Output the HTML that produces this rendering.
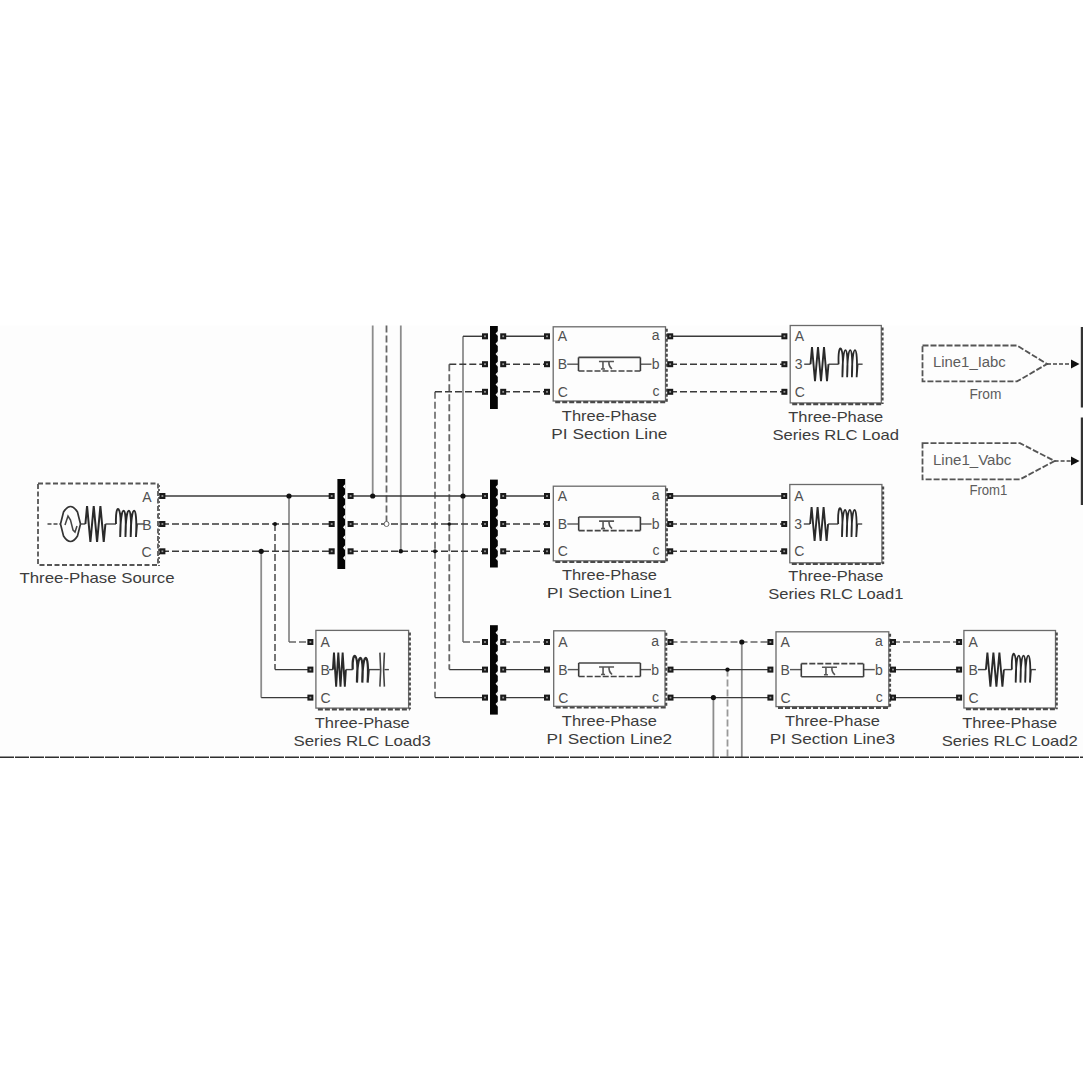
<!DOCTYPE html><html><head><meta charset="utf-8"><style>html,body{margin:0;padding:0;background:#fff;}svg{display:block;font-family:"Liberation Sans",sans-serif;}</style></head><body>
<svg width="1083" height="1083" viewBox="0 0 1083 1083">
<rect x="0" y="0" width="1083" height="1083" fill="#fff"/>
<rect x="0" y="325.5" width="1083" height="432" fill="#fdfdfd"/>
<line x1="372.7" y1="325.5" x2="372.7" y2="496.0" stroke="#8c8c8c" stroke-width="1.8"/>
<line x1="386.5" y1="325.5" x2="386.5" y2="524.0" stroke="#666" stroke-width="1.8" stroke-dasharray="7 3"/>
<line x1="400.8" y1="325.5" x2="400.8" y2="551.3" stroke="#8c8c8c" stroke-width="1.8"/>
<line x1="463.0" y1="336.3" x2="463.0" y2="642.0" stroke="#8c8c8c" stroke-width="1.8"/>
<line x1="449.3" y1="364.2" x2="449.3" y2="669.6" stroke="#666" stroke-width="1.8" stroke-dasharray="7 3"/>
<line x1="435.0" y1="391.8" x2="435.0" y2="697.6" stroke="#777" stroke-width="1.8" stroke-dasharray="7 3"/>
<line x1="289.0" y1="496.0" x2="289.0" y2="642.0" stroke="#8c8c8c" stroke-width="1.8"/>
<line x1="275.0" y1="524.0" x2="275.0" y2="669.6" stroke="#666" stroke-width="1.8" stroke-dasharray="7 3"/>
<line x1="261.2" y1="551.3" x2="261.2" y2="697.6" stroke="#8c8c8c" stroke-width="1.8"/>
<line x1="741.8" y1="642.0" x2="741.8" y2="757" stroke="#8c8c8c" stroke-width="1.8"/>
<line x1="727.5" y1="669.6" x2="727.5" y2="757" stroke="#999" stroke-width="1.8" stroke-dasharray="7 3"/>
<line x1="713.4" y1="697.6" x2="713.4" y2="757" stroke="#8c8c8c" stroke-width="1.8"/>
<line x1="463" y1="336.3" x2="485" y2="336.3" stroke="#3a3a3a" stroke-width="1.45"/>
<line x1="449.3" y1="364.2" x2="485" y2="364.2" stroke="#3a3a3a" stroke-width="1.45" stroke-dasharray="7 3"/>
<line x1="435" y1="391.8" x2="485" y2="391.8" stroke="#3a3a3a" stroke-width="1.45" stroke-dasharray="7 3"/>
<line x1="503" y1="336.3" x2="547" y2="336.3" stroke="#3a3a3a" stroke-width="1.45"/>
<line x1="503" y1="364.2" x2="547" y2="364.2" stroke="#3a3a3a" stroke-width="1.45" stroke-dasharray="7 3"/>
<line x1="503" y1="391.8" x2="547" y2="391.8" stroke="#3a3a3a" stroke-width="1.45" stroke-dasharray="7 3"/>
<line x1="670" y1="336.3" x2="784" y2="336.3" stroke="#3a3a3a" stroke-width="1.45"/>
<line x1="670" y1="364.2" x2="784" y2="364.2" stroke="#3a3a3a" stroke-width="1.45" stroke-dasharray="7 3"/>
<line x1="670" y1="391.8" x2="784" y2="391.8" stroke="#3a3a3a" stroke-width="1.45" stroke-dasharray="7 3"/>
<line x1="162" y1="496.0" x2="332" y2="496.0" stroke="#3a3a3a" stroke-width="1.45"/>
<line x1="162" y1="524.0" x2="332" y2="524.0" stroke="#3a3a3a" stroke-width="1.45" stroke-dasharray="7 3"/>
<line x1="162" y1="551.3" x2="332" y2="551.3" stroke="#3a3a3a" stroke-width="1.45" stroke-dasharray="7 3"/>
<line x1="351" y1="496.0" x2="485" y2="496.0" stroke="#3a3a3a" stroke-width="1.45"/>
<line x1="351" y1="524.0" x2="485" y2="524.0" stroke="#3a3a3a" stroke-width="1.45" stroke-dasharray="7 3"/>
<line x1="351" y1="551.3" x2="485" y2="551.3" stroke="#3a3a3a" stroke-width="1.45" stroke-dasharray="7 3"/>
<line x1="503" y1="496.0" x2="547" y2="496.0" stroke="#3a3a3a" stroke-width="1.45"/>
<line x1="503" y1="524.0" x2="547" y2="524.0" stroke="#3a3a3a" stroke-width="1.45" stroke-dasharray="7 3"/>
<line x1="503" y1="551.3" x2="547" y2="551.3" stroke="#3a3a3a" stroke-width="1.45" stroke-dasharray="7 3"/>
<line x1="670" y1="496.0" x2="784" y2="496.0" stroke="#3a3a3a" stroke-width="1.45"/>
<line x1="670" y1="524.0" x2="784" y2="524.0" stroke="#3a3a3a" stroke-width="1.45" stroke-dasharray="7 3"/>
<line x1="670" y1="551.3" x2="784" y2="551.3" stroke="#3a3a3a" stroke-width="1.45" stroke-dasharray="7 3"/>
<line x1="289" y1="642.0" x2="310.4" y2="642.0" stroke="#666" stroke-width="1.45" stroke-dasharray="7 3"/>
<line x1="275" y1="669.6" x2="310.4" y2="669.6" stroke="#3a3a3a" stroke-width="1.45"/>
<line x1="261.2" y1="697.6" x2="310.4" y2="697.6" stroke="#3a3a3a" stroke-width="1.45"/>
<line x1="463" y1="642.0" x2="485" y2="642.0" stroke="#666" stroke-width="1.45" stroke-dasharray="7 3"/>
<line x1="449.3" y1="669.6" x2="485" y2="669.6" stroke="#3a3a3a" stroke-width="1.45"/>
<line x1="435" y1="697.6" x2="485" y2="697.6" stroke="#3a3a3a" stroke-width="1.45"/>
<line x1="503" y1="642.0" x2="547" y2="642.0" stroke="#666" stroke-width="1.45" stroke-dasharray="7 3"/>
<line x1="503" y1="669.6" x2="547" y2="669.6" stroke="#3a3a3a" stroke-width="1.45"/>
<line x1="503" y1="697.6" x2="547" y2="697.6" stroke="#3a3a3a" stroke-width="1.45"/>
<line x1="670.5" y1="642.0" x2="770.4" y2="642.0" stroke="#666" stroke-width="1.45" stroke-dasharray="7 3"/>
<line x1="670.5" y1="669.6" x2="770.4" y2="669.6" stroke="#3a3a3a" stroke-width="1.45"/>
<line x1="670.5" y1="697.6" x2="770.4" y2="697.6" stroke="#3a3a3a" stroke-width="1.45"/>
<line x1="893" y1="642.0" x2="959" y2="642.0" stroke="#666" stroke-width="1.45" stroke-dasharray="7 3"/>
<line x1="893" y1="669.6" x2="959" y2="669.6" stroke="#3a3a3a" stroke-width="1.45"/>
<line x1="893" y1="697.6" x2="959" y2="697.6" stroke="#3a3a3a" stroke-width="1.45"/>
<circle cx="289" cy="496.0" r="2.6" fill="#111"/>
<circle cx="275" cy="524.0" r="2" fill="#111"/>
<circle cx="261.2" cy="551.3" r="2.6" fill="#111"/>
<circle cx="372.7" cy="496.0" r="2.6" fill="#111"/>
<circle cx="386.5" cy="524.0" r="2.5" fill="#fff" stroke="#666" stroke-width="1"/>
<circle cx="400.8" cy="551.3" r="2.2" fill="#111"/>
<circle cx="463" cy="496.0" r="2.6" fill="#111"/>
<circle cx="449.3" cy="524.0" r="1.8" fill="#111"/>
<circle cx="435" cy="551.3" r="2" fill="#111"/>
<circle cx="741.8" cy="642.0" r="2.6" fill="#111"/>
<circle cx="727.5" cy="669.6" r="2.2" fill="#111"/>
<circle cx="713.4" cy="697.6" r="2.6" fill="#111"/>
<rect x="38" y="483.5" width="120" height="81.5" fill="none" stroke="#555" stroke-width="1.8" stroke-dasharray="5 2.5"/>
<line x1="159" y1="485" x2="159" y2="566" stroke="#666" stroke-width="2" stroke-dasharray="2 2"/>
<rect x="159.4" y="493.0" width="6" height="6" fill="#1a1a1a"/>
<rect x="161.5" y="495.1" width="1.8" height="1.8" fill="#999"/>
<rect x="159.4" y="521.0" width="6" height="6" fill="#1a1a1a"/>
<rect x="161.5" y="523.1" width="1.8" height="1.8" fill="#999"/>
<rect x="159.4" y="548.3" width="6" height="6" fill="#1a1a1a"/>
<rect x="161.5" y="550.4" width="1.8" height="1.8" fill="#999"/>
<text x="151.5" y="501.5" font-size="14" fill="#505050" text-anchor="end">A</text>
<text x="151.5" y="529.5" font-size="14" fill="#505050" text-anchor="end">B</text>
<text x="151.5" y="556.8" font-size="14" fill="#505050" text-anchor="end">C</text>
<line x1="47.5" y1="524.0" x2="61" y2="524.0" stroke="#444" stroke-width="1.4" stroke-dasharray="4 2"/>
<path d="M60.5,524.0 L63.5,512.0 Q70.5,501.0 77.5,512.0 L80.5,524.0 L77.5,536.0 Q70.5,547.0 63.5,536.0 Z" fill="none" stroke="#333" stroke-width="1.7"/>
<path d="M65,525.0 L68,516.0 L70.5,520.0 L73,530.0 L75,532.0 L77,526.0" fill="none" stroke="#444" stroke-width="1.5"/>
<line x1="80.5" y1="524.0" x2="85.4" y2="524.0" stroke="#444" stroke-width="1.4"/>
<polyline points="85.4,524.0 87.07,506.0 90.40,542.0 93.73,506.0 97.07,542.0 100.40,506.0 103.73,542.0 105.4,524.0" fill="none" stroke="#2a2a2a" stroke-width="2" stroke-linejoin="miter"/>
<line x1="105.4" y1="524.0" x2="116" y2="524.0" stroke="#444" stroke-width="1.4"/>
<path d="M116,524.0 C115.0,502.0 122.25,502.0 120.20,537.0 C120.25,502.0 127.5,502.0 125.45,537.0 C125.5,502.0 132.75,502.0 130.70,537.0 C130.75,502.0 138.0,502.0 135.95,537.0 L137,524.0" fill="none" stroke="#2a2a2a" stroke-width="1.9"/>
<line x1="137" y1="524.0" x2="144" y2="524.0" stroke="#444" stroke-width="1.4"/>
<text x="97" y="582.8" font-size="15" fill="#3c3c3c" text-anchor="middle" textLength="155" lengthAdjust="spacingAndGlyphs">Three-Phase Source</text>
<rect x="337.4" y="479" width="7.8" height="90" fill="#050505"/>
<polygon points="345.29999999999995,483.9 343.0,486.5 345.29999999999995,489.1" fill="#fff"/>
<polygon points="345.29999999999995,494.09999999999997 343.0,496.7 345.29999999999995,499.3" fill="#fff"/>
<polygon points="345.29999999999995,504.29999999999995 343.0,506.9 345.29999999999995,509.5" fill="#fff"/>
<polygon points="345.29999999999995,514.5 343.0,517.1 345.29999999999995,519.7" fill="#fff"/>
<polygon points="345.29999999999995,524.6999999999999 343.0,527.3 345.29999999999995,529.9" fill="#fff"/>
<polygon points="345.29999999999995,534.9 343.0,537.5 345.29999999999995,540.1" fill="#fff"/>
<polygon points="345.29999999999995,545.1 343.0,547.7 345.29999999999995,550.3000000000001" fill="#fff"/>
<polygon points="345.29999999999995,555.3 343.0,557.9 345.29999999999995,560.5" fill="#fff"/>
<rect x="328.7" y="493.0" width="6" height="6" fill="#1a1a1a"/>
<rect x="330.8" y="495.1" width="1.8" height="1.8" fill="#999"/>
<rect x="347.6" y="493.0" width="6" height="6" fill="#1a1a1a"/>
<rect x="349.70000000000005" y="495.1" width="1.8" height="1.8" fill="#999"/>
<rect x="328.7" y="521.0" width="6" height="6" fill="#1a1a1a"/>
<rect x="330.8" y="523.1" width="1.8" height="1.8" fill="#999"/>
<rect x="347.6" y="521.0" width="6" height="6" fill="#1a1a1a"/>
<rect x="349.70000000000005" y="523.1" width="1.8" height="1.8" fill="#999"/>
<rect x="328.7" y="548.3" width="6" height="6" fill="#1a1a1a"/>
<rect x="330.8" y="550.4" width="1.8" height="1.8" fill="#999"/>
<rect x="347.6" y="548.3" width="6" height="6" fill="#1a1a1a"/>
<rect x="349.70000000000005" y="550.4" width="1.8" height="1.8" fill="#999"/>
<rect x="490" y="326" width="7.8" height="83" fill="#050505"/>
<polygon points="497.9,330.9 495.6,333.5 497.9,336.1" fill="#fff"/>
<polygon points="497.9,341.09999999999997 495.6,343.7 497.9,346.3" fill="#fff"/>
<polygon points="497.9,351.29999999999995 495.6,353.9 497.9,356.5" fill="#fff"/>
<polygon points="497.9,361.5 495.6,364.1 497.9,366.70000000000005" fill="#fff"/>
<polygon points="497.9,371.7 495.6,374.3 497.9,376.90000000000003" fill="#fff"/>
<polygon points="497.9,381.9 495.6,384.5 497.9,387.1" fill="#fff"/>
<polygon points="497.9,392.09999999999997 495.6,394.7 497.9,397.3" fill="#fff"/>
<rect x="482.0" y="333.3" width="6" height="6" fill="#1a1a1a"/>
<rect x="484.1" y="335.40000000000003" width="1.8" height="1.8" fill="#999"/>
<rect x="500.2" y="333.3" width="6" height="6" fill="#1a1a1a"/>
<rect x="502.3" y="335.40000000000003" width="1.8" height="1.8" fill="#999"/>
<rect x="482.0" y="361.2" width="6" height="6" fill="#1a1a1a"/>
<rect x="484.1" y="363.3" width="1.8" height="1.8" fill="#999"/>
<rect x="500.2" y="361.2" width="6" height="6" fill="#1a1a1a"/>
<rect x="502.3" y="363.3" width="1.8" height="1.8" fill="#999"/>
<rect x="482.0" y="388.8" width="6" height="6" fill="#1a1a1a"/>
<rect x="484.1" y="390.90000000000003" width="1.8" height="1.8" fill="#999"/>
<rect x="500.2" y="388.8" width="6" height="6" fill="#1a1a1a"/>
<rect x="502.3" y="390.90000000000003" width="1.8" height="1.8" fill="#999"/>
<rect x="490" y="479.6" width="7.8" height="87.89999999999998" fill="#050505"/>
<polygon points="497.9,484.5 495.6,487.1 497.9,489.70000000000005" fill="#fff"/>
<polygon points="497.9,494.7 495.6,497.3 497.9,499.90000000000003" fill="#fff"/>
<polygon points="497.9,504.9 495.6,507.5 497.9,510.1" fill="#fff"/>
<polygon points="497.9,515.1 495.6,517.7 497.9,520.3000000000001" fill="#fff"/>
<polygon points="497.9,525.3 495.6,527.9 497.9,530.5" fill="#fff"/>
<polygon points="497.9,535.5 495.6,538.1 497.9,540.7" fill="#fff"/>
<polygon points="497.9,545.7 495.6,548.3000000000001 497.9,550.9000000000001" fill="#fff"/>
<polygon points="497.9,555.9 495.6,558.5 497.9,561.1" fill="#fff"/>
<rect x="482.0" y="493.0" width="6" height="6" fill="#1a1a1a"/>
<rect x="484.1" y="495.1" width="1.8" height="1.8" fill="#999"/>
<rect x="500.2" y="493.0" width="6" height="6" fill="#1a1a1a"/>
<rect x="502.3" y="495.1" width="1.8" height="1.8" fill="#999"/>
<rect x="482.0" y="521.0" width="6" height="6" fill="#1a1a1a"/>
<rect x="484.1" y="523.1" width="1.8" height="1.8" fill="#999"/>
<rect x="500.2" y="521.0" width="6" height="6" fill="#1a1a1a"/>
<rect x="502.3" y="523.1" width="1.8" height="1.8" fill="#999"/>
<rect x="482.0" y="548.3" width="6" height="6" fill="#1a1a1a"/>
<rect x="484.1" y="550.4" width="1.8" height="1.8" fill="#999"/>
<rect x="500.2" y="548.3" width="6" height="6" fill="#1a1a1a"/>
<rect x="502.3" y="550.4" width="1.8" height="1.8" fill="#999"/>
<rect x="490" y="625.2" width="7.8" height="89.39999999999998" fill="#050505"/>
<polygon points="497.9,630.1 495.6,632.7 497.9,635.3000000000001" fill="#fff"/>
<polygon points="497.9,640.3000000000001 495.6,642.9000000000001 497.9,645.5000000000001" fill="#fff"/>
<polygon points="497.9,650.5 495.6,653.1 497.9,655.7" fill="#fff"/>
<polygon points="497.9,660.7 495.6,663.3000000000001 497.9,665.9000000000001" fill="#fff"/>
<polygon points="497.9,670.9 495.6,673.5 497.9,676.1" fill="#fff"/>
<polygon points="497.9,681.1 495.6,683.7 497.9,686.3000000000001" fill="#fff"/>
<polygon points="497.9,691.3000000000001 495.6,693.9000000000001 497.9,696.5000000000001" fill="#fff"/>
<polygon points="497.9,701.5 495.6,704.1 497.9,706.7" fill="#fff"/>
<rect x="482.0" y="639.0" width="6" height="6" fill="#1a1a1a"/>
<rect x="484.1" y="641.1" width="1.8" height="1.8" fill="#999"/>
<rect x="500.2" y="639.0" width="6" height="6" fill="#1a1a1a"/>
<rect x="502.3" y="641.1" width="1.8" height="1.8" fill="#999"/>
<rect x="482.0" y="666.6" width="6" height="6" fill="#1a1a1a"/>
<rect x="484.1" y="668.7" width="1.8" height="1.8" fill="#999"/>
<rect x="500.2" y="666.6" width="6" height="6" fill="#1a1a1a"/>
<rect x="502.3" y="668.7" width="1.8" height="1.8" fill="#999"/>
<rect x="482.0" y="694.6" width="6" height="6" fill="#1a1a1a"/>
<rect x="484.1" y="696.7" width="1.8" height="1.8" fill="#999"/>
<rect x="500.2" y="694.6" width="6" height="6" fill="#1a1a1a"/>
<rect x="502.3" y="696.7" width="1.8" height="1.8" fill="#999"/>
<rect x="553.2" y="326.8" width="112.29999999999995" height="74.19999999999999" fill="none" stroke="#6a6a6a" stroke-width="1.3"/>
<line x1="666.7" y1="328.8" x2="666.7" y2="402.2" stroke="#4a4a4a" stroke-width="2.2" stroke-dasharray="3 2"/>
<line x1="555.2" y1="402.2" x2="666.7" y2="402.2" stroke="#4a4a4a" stroke-width="2.2" stroke-dasharray="5 2"/>
<text x="557.7" y="341.3" font-size="14" fill="#505050" text-anchor="start">A</text>
<text x="557.7" y="369.2" font-size="14" fill="#505050" text-anchor="start">B</text>
<text x="557.7" y="396.8" font-size="14" fill="#505050" text-anchor="start">C</text>
<text x="659.5" y="340.3" font-size="14" fill="#505050" text-anchor="end">a</text>
<text x="659.5" y="369.2" font-size="14" fill="#505050" text-anchor="end">b</text>
<text x="659.5" y="395.8" font-size="14" fill="#505050" text-anchor="end">c</text>
<line x1="567.2" y1="364.2" x2="578.5" y2="364.2" stroke="#555" stroke-width="1.4"/>
<line x1="640.4" y1="364.2" x2="651.5" y2="364.2" stroke="#555" stroke-width="1.4"/>
<line x1="578.5" y1="357.4" x2="578.5" y2="371" stroke="#3a3a3a" stroke-width="1.6"/>
<line x1="640.4" y1="357.4" x2="640.4" y2="371" stroke="#3a3a3a" stroke-width="1.6"/>
<line x1="578.5" y1="357.4" x2="640.4" y2="357.4" stroke="#444" stroke-width="1.6"/>
<line x1="578.5" y1="371" x2="640.4" y2="371" stroke="#444" stroke-width="1.6" stroke-dasharray="6 2"/>
<path d="M598.95,361.5 L613.95,361.5 M602.95,361.5 L602.95,369 M600.95,369 L604.95,369 M608.95,361.5 Q608.45,366 611.95,369" fill="none" stroke="#555" stroke-width="1.6"/>
<rect x="544.0" y="333.3" width="6" height="6" fill="#1a1a1a"/>
<rect x="546.1" y="335.40000000000003" width="1.8" height="1.8" fill="#999"/>
<rect x="667.2" y="333.3" width="6" height="6" fill="#1a1a1a"/>
<rect x="669.3000000000001" y="335.40000000000003" width="1.8" height="1.8" fill="#999"/>
<rect x="544.0" y="361.2" width="6" height="6" fill="#1a1a1a"/>
<rect x="546.1" y="363.3" width="1.8" height="1.8" fill="#999"/>
<rect x="667.2" y="361.2" width="6" height="6" fill="#1a1a1a"/>
<rect x="669.3000000000001" y="363.3" width="1.8" height="1.8" fill="#999"/>
<rect x="544.0" y="388.8" width="6" height="6" fill="#1a1a1a"/>
<rect x="546.1" y="390.90000000000003" width="1.8" height="1.8" fill="#999"/>
<rect x="667.2" y="388.8" width="6" height="6" fill="#1a1a1a"/>
<rect x="669.3000000000001" y="390.90000000000003" width="1.8" height="1.8" fill="#999"/>
<text x="609.35" y="420.5" font-size="15" fill="#3c3c3c" text-anchor="middle" textLength="95" lengthAdjust="spacingAndGlyphs">Three-Phase</text>
<text x="609.35" y="438.5" font-size="15" fill="#3c3c3c" text-anchor="middle" textLength="116" lengthAdjust="spacingAndGlyphs">PI Section Line</text>
<rect x="553.3" y="486.2" width="112.30000000000007" height="74.59999999999997" fill="none" stroke="#6a6a6a" stroke-width="1.3"/>
<line x1="666.8000000000001" y1="488.2" x2="666.8000000000001" y2="562.0" stroke="#4a4a4a" stroke-width="2.2" stroke-dasharray="3 2"/>
<line x1="555.3" y1="562.0" x2="666.8000000000001" y2="562.0" stroke="#4a4a4a" stroke-width="2.2" stroke-dasharray="5 2"/>
<text x="557.8" y="501.0" font-size="14" fill="#505050" text-anchor="start">A</text>
<text x="557.8" y="529.0" font-size="14" fill="#505050" text-anchor="start">B</text>
<text x="557.8" y="556.3" font-size="14" fill="#505050" text-anchor="start">C</text>
<text x="659.6" y="500.0" font-size="14" fill="#505050" text-anchor="end">a</text>
<text x="659.6" y="529.0" font-size="14" fill="#505050" text-anchor="end">b</text>
<text x="659.6" y="555.3" font-size="14" fill="#505050" text-anchor="end">c</text>
<line x1="567.3" y1="524.0" x2="578.7" y2="524.0" stroke="#555" stroke-width="1.4"/>
<line x1="640.4" y1="524.0" x2="651.6" y2="524.0" stroke="#555" stroke-width="1.4"/>
<line x1="578.7" y1="517" x2="578.7" y2="530.6" stroke="#3a3a3a" stroke-width="1.6"/>
<line x1="640.4" y1="517" x2="640.4" y2="530.6" stroke="#3a3a3a" stroke-width="1.6"/>
<line x1="578.7" y1="517" x2="640.4" y2="517" stroke="#444" stroke-width="1.6"/>
<line x1="578.7" y1="530.6" x2="640.4" y2="530.6" stroke="#444" stroke-width="1.6" stroke-dasharray="6 2"/>
<path d="M599.05,521.1 L614.05,521.1 M603.05,521.1 L603.05,528.6 M601.05,528.6 L605.05,528.6 M609.05,521.1 Q608.55,525.6 612.05,528.6" fill="none" stroke="#555" stroke-width="1.6"/>
<rect x="544.0" y="493.0" width="6" height="6" fill="#1a1a1a"/>
<rect x="546.1" y="495.1" width="1.8" height="1.8" fill="#999"/>
<rect x="667.2" y="493.0" width="6" height="6" fill="#1a1a1a"/>
<rect x="669.3000000000001" y="495.1" width="1.8" height="1.8" fill="#999"/>
<rect x="544.0" y="521.0" width="6" height="6" fill="#1a1a1a"/>
<rect x="546.1" y="523.1" width="1.8" height="1.8" fill="#999"/>
<rect x="667.2" y="521.0" width="6" height="6" fill="#1a1a1a"/>
<rect x="669.3000000000001" y="523.1" width="1.8" height="1.8" fill="#999"/>
<rect x="544.0" y="548.3" width="6" height="6" fill="#1a1a1a"/>
<rect x="546.1" y="550.4" width="1.8" height="1.8" fill="#999"/>
<rect x="667.2" y="548.3" width="6" height="6" fill="#1a1a1a"/>
<rect x="669.3000000000001" y="550.4" width="1.8" height="1.8" fill="#999"/>
<text x="609.45" y="580" font-size="15" fill="#3c3c3c" text-anchor="middle" textLength="95" lengthAdjust="spacingAndGlyphs">Three-Phase</text>
<text x="609.45" y="598" font-size="15" fill="#3c3c3c" text-anchor="middle" textLength="125" lengthAdjust="spacingAndGlyphs">PI Section Line1</text>
<rect x="553.7" y="630.8" width="111.29999999999995" height="75.5" fill="none" stroke="#6a6a6a" stroke-width="1.3"/>
<line x1="666.2" y1="632.8" x2="666.2" y2="707.5" stroke="#4a4a4a" stroke-width="2.2" stroke-dasharray="3 2"/>
<line x1="555.7" y1="707.5" x2="666.2" y2="707.5" stroke="#4a4a4a" stroke-width="2.2" stroke-dasharray="5 2"/>
<text x="558.2" y="647.0" font-size="14" fill="#505050" text-anchor="start">A</text>
<text x="558.2" y="674.6" font-size="14" fill="#505050" text-anchor="start">B</text>
<text x="558.2" y="702.6" font-size="14" fill="#505050" text-anchor="start">C</text>
<text x="659" y="646.0" font-size="14" fill="#505050" text-anchor="end">a</text>
<text x="659" y="674.6" font-size="14" fill="#505050" text-anchor="end">b</text>
<text x="659" y="701.6" font-size="14" fill="#505050" text-anchor="end">c</text>
<line x1="567.7" y1="669.6" x2="578.7" y2="669.6" stroke="#555" stroke-width="1.4"/>
<line x1="640.4" y1="669.6" x2="651" y2="669.6" stroke="#555" stroke-width="1.4"/>
<line x1="578.7" y1="663" x2="578.7" y2="676.5" stroke="#3a3a3a" stroke-width="1.6"/>
<line x1="640.4" y1="663" x2="640.4" y2="676.5" stroke="#3a3a3a" stroke-width="1.6"/>
<line x1="578.7" y1="663" x2="640.4" y2="663" stroke="#444" stroke-width="1.6"/>
<line x1="578.7" y1="676.5" x2="640.4" y2="676.5" stroke="#444" stroke-width="1.6" stroke-dasharray="6 2"/>
<path d="M599.05,667.0 L614.05,667.0 M603.05,667.0 L603.05,674.5 M601.05,674.5 L605.05,674.5 M609.05,667.0 Q608.55,671.5 612.05,674.5" fill="none" stroke="#555" stroke-width="1.6"/>
<rect x="544.0" y="639.0" width="6" height="6" fill="#1a1a1a"/>
<rect x="546.1" y="641.1" width="1.8" height="1.8" fill="#999"/>
<rect x="667.5" y="639.0" width="6" height="6" fill="#1a1a1a"/>
<rect x="669.6" y="641.1" width="1.8" height="1.8" fill="#999"/>
<rect x="544.0" y="666.6" width="6" height="6" fill="#1a1a1a"/>
<rect x="546.1" y="668.7" width="1.8" height="1.8" fill="#999"/>
<rect x="667.5" y="666.6" width="6" height="6" fill="#1a1a1a"/>
<rect x="669.6" y="668.7" width="1.8" height="1.8" fill="#999"/>
<rect x="544.0" y="694.6" width="6" height="6" fill="#1a1a1a"/>
<rect x="546.1" y="696.7" width="1.8" height="1.8" fill="#999"/>
<rect x="667.5" y="694.6" width="6" height="6" fill="#1a1a1a"/>
<rect x="669.6" y="696.7" width="1.8" height="1.8" fill="#999"/>
<text x="609.35" y="726.3" font-size="15" fill="#3c3c3c" text-anchor="middle" textLength="95" lengthAdjust="spacingAndGlyphs">Three-Phase</text>
<text x="609.35" y="744.3" font-size="15" fill="#3c3c3c" text-anchor="middle" textLength="125.6" lengthAdjust="spacingAndGlyphs">PI Section Line2</text>
<rect x="776" y="631.8" width="112.79999999999995" height="74.80000000000007" fill="none" stroke="#6a6a6a" stroke-width="1.3"/>
<line x1="890.0" y1="633.8" x2="890.0" y2="707.8000000000001" stroke="#4a4a4a" stroke-width="2.2" stroke-dasharray="3 2"/>
<line x1="778" y1="707.8000000000001" x2="890.0" y2="707.8000000000001" stroke="#4a4a4a" stroke-width="2.2" stroke-dasharray="5 2"/>
<text x="780.5" y="647.0" font-size="14" fill="#505050" text-anchor="start">A</text>
<text x="780.5" y="674.6" font-size="14" fill="#505050" text-anchor="start">B</text>
<text x="780.5" y="702.6" font-size="14" fill="#505050" text-anchor="start">C</text>
<text x="882.8" y="646.0" font-size="14" fill="#505050" text-anchor="end">a</text>
<text x="882.8" y="674.6" font-size="14" fill="#505050" text-anchor="end">b</text>
<text x="882.8" y="701.6" font-size="14" fill="#505050" text-anchor="end">c</text>
<line x1="790" y1="669.6" x2="801.3" y2="669.6" stroke="#555" stroke-width="1.4"/>
<line x1="863.6" y1="669.6" x2="874.8" y2="669.6" stroke="#555" stroke-width="1.4"/>
<line x1="801.3" y1="663.6" x2="801.3" y2="676.8" stroke="#3a3a3a" stroke-width="1.6"/>
<line x1="863.6" y1="663.6" x2="863.6" y2="676.8" stroke="#3a3a3a" stroke-width="1.6"/>
<line x1="801.3" y1="663.6" x2="863.6" y2="663.6" stroke="#444" stroke-width="1.6" stroke-dasharray="6 2"/>
<line x1="801.3" y1="676.8" x2="863.6" y2="676.8" stroke="#444" stroke-width="1.6"/>
<path d="M821.95,667.3 L836.95,667.3 M825.95,667.3 L825.95,674.8 M823.95,674.8 L827.95,674.8 M831.95,667.3 Q831.45,671.8 834.95,674.8" fill="none" stroke="#555" stroke-width="1.6"/>
<rect x="767.4" y="639.0" width="6" height="6" fill="#1a1a1a"/>
<rect x="769.5" y="641.1" width="1.8" height="1.8" fill="#999"/>
<rect x="890.0" y="639.0" width="6" height="6" fill="#1a1a1a"/>
<rect x="892.1" y="641.1" width="1.8" height="1.8" fill="#999"/>
<rect x="767.4" y="666.6" width="6" height="6" fill="#1a1a1a"/>
<rect x="769.5" y="668.7" width="1.8" height="1.8" fill="#999"/>
<rect x="890.0" y="666.6" width="6" height="6" fill="#1a1a1a"/>
<rect x="892.1" y="668.7" width="1.8" height="1.8" fill="#999"/>
<rect x="767.4" y="694.6" width="6" height="6" fill="#1a1a1a"/>
<rect x="769.5" y="696.7" width="1.8" height="1.8" fill="#999"/>
<rect x="890.0" y="694.6" width="6" height="6" fill="#1a1a1a"/>
<rect x="892.1" y="696.7" width="1.8" height="1.8" fill="#999"/>
<text x="832.4" y="726.2" font-size="15" fill="#3c3c3c" text-anchor="middle" textLength="95" lengthAdjust="spacingAndGlyphs">Three-Phase</text>
<text x="832.4" y="744.2" font-size="15" fill="#3c3c3c" text-anchor="middle" textLength="125.3" lengthAdjust="spacingAndGlyphs">PI Section Line3</text>
<rect x="790.2" y="325.5" width="91.09999999999991" height="77.39999999999998" fill="none" stroke="#6a6a6a" stroke-width="1.3"/>
<line x1="882.5" y1="327.5" x2="882.5" y2="404.09999999999997" stroke="#4a4a4a" stroke-width="2.2" stroke-dasharray="3 2"/>
<line x1="792.2" y1="404.09999999999997" x2="882.5" y2="404.09999999999997" stroke="#4a4a4a" stroke-width="2.2" stroke-dasharray="5 2"/>
<text x="794.7" y="341.3" font-size="14" fill="#505050" text-anchor="start">A</text>
<text x="794.7" y="369.2" font-size="14" fill="#505050" text-anchor="start">3</text>
<text x="794.7" y="396.8" font-size="14" fill="#505050" text-anchor="start">C</text>
<line x1="804.2" y1="364.2" x2="810.5" y2="364.2" stroke="#444" stroke-width="1.4"/>
<polyline points="810.5,364.2 812.00,347.2 815.00,381.2 818.00,347.2 821.00,381.2 824.00,347.2 827.00,381.2 828.5,364.2" fill="none" stroke="#2a2a2a" stroke-width="1.9" stroke-linejoin="miter"/>
<line x1="828.5" y1="364.2" x2="838.6" y2="364.2" stroke="#444" stroke-width="1.4"/>
<path d="M838.6,364.2 C837.6,341.2 844.35,341.2 842.40,377.2 C842.35,341.2 849.1,341.2 847.15,377.2 C847.1,341.2 853.85,341.2 851.90,377.2 C851.85,341.2 858.6,341.2 856.65,377.2 L857.6,364.2" fill="none" stroke="#2a2a2a" stroke-width="1.8"/>
<line x1="857.6" y1="364.2" x2="862.6" y2="364.2" stroke="#444" stroke-width="1.4"/>
<rect x="781.4" y="333.3" width="6" height="6" fill="#1a1a1a"/>
<rect x="783.5" y="335.40000000000003" width="1.8" height="1.8" fill="#999"/>
<rect x="781.4" y="361.2" width="6" height="6" fill="#1a1a1a"/>
<rect x="783.5" y="363.3" width="1.8" height="1.8" fill="#999"/>
<rect x="781.4" y="388.8" width="6" height="6" fill="#1a1a1a"/>
<rect x="783.5" y="390.90000000000003" width="1.8" height="1.8" fill="#999"/>
<text x="835.75" y="421.6" font-size="15" fill="#3c3c3c" text-anchor="middle" textLength="95" lengthAdjust="spacingAndGlyphs">Three-Phase</text>
<text x="835.75" y="439.6" font-size="15" fill="#3c3c3c" text-anchor="middle" textLength="126.6" lengthAdjust="spacingAndGlyphs">Series RLC Load</text>
<rect x="789.8" y="484.5" width="92.10000000000002" height="78.29999999999995" fill="none" stroke="#6a6a6a" stroke-width="1.3"/>
<line x1="883.1" y1="486.5" x2="883.1" y2="564.0" stroke="#4a4a4a" stroke-width="2.2" stroke-dasharray="3 2"/>
<line x1="791.8" y1="564.0" x2="883.1" y2="564.0" stroke="#4a4a4a" stroke-width="2.2" stroke-dasharray="5 2"/>
<text x="794.3" y="501.0" font-size="14" fill="#505050" text-anchor="start">A</text>
<text x="794.3" y="529.0" font-size="14" fill="#505050" text-anchor="start">3</text>
<text x="794.3" y="556.3" font-size="14" fill="#505050" text-anchor="start">C</text>
<line x1="803.8" y1="524.0" x2="810.0999999999999" y2="524.0" stroke="#444" stroke-width="1.4"/>
<polyline points="810.0999999999999,524.0 811.60,507.0 814.60,541.0 817.60,507.0 820.60,541.0 823.60,507.0 826.60,541.0 828.0999999999999,524.0" fill="none" stroke="#2a2a2a" stroke-width="1.9" stroke-linejoin="miter"/>
<line x1="828.0999999999999" y1="524.0" x2="838.1999999999999" y2="524.0" stroke="#444" stroke-width="1.4"/>
<path d="M838.1999999999999,524.0 C837.1999999999999,501.0 843.9499999999999,501.0 842.00,537.0 C841.9499999999999,501.0 848.6999999999999,501.0 846.75,537.0 C846.6999999999999,501.0 853.4499999999999,501.0 851.50,537.0 C851.4499999999999,501.0 858.1999999999999,501.0 856.25,537.0 L857.1999999999999,524.0" fill="none" stroke="#2a2a2a" stroke-width="1.8"/>
<line x1="857.1999999999999" y1="524.0" x2="862.1999999999999" y2="524.0" stroke="#444" stroke-width="1.4"/>
<rect x="781.2" y="493.0" width="6" height="6" fill="#1a1a1a"/>
<rect x="783.3000000000001" y="495.1" width="1.8" height="1.8" fill="#999"/>
<rect x="781.2" y="521.0" width="6" height="6" fill="#1a1a1a"/>
<rect x="783.3000000000001" y="523.1" width="1.8" height="1.8" fill="#999"/>
<rect x="781.2" y="548.3" width="6" height="6" fill="#1a1a1a"/>
<rect x="783.3000000000001" y="550.4" width="1.8" height="1.8" fill="#999"/>
<text x="835.8499999999999" y="580.8" font-size="15" fill="#3c3c3c" text-anchor="middle" textLength="95" lengthAdjust="spacingAndGlyphs">Three-Phase</text>
<text x="835.8499999999999" y="599.4" font-size="15" fill="#3c3c3c" text-anchor="middle" textLength="135" lengthAdjust="spacingAndGlyphs">Series RLC Load1</text>
<rect x="315.9" y="630.4" width="92.70000000000005" height="77.70000000000005" fill="none" stroke="#6a6a6a" stroke-width="1.3"/>
<line x1="409.8" y1="632.4" x2="409.8" y2="709.3000000000001" stroke="#4a4a4a" stroke-width="2.2" stroke-dasharray="3 2"/>
<line x1="317.9" y1="709.3000000000001" x2="409.8" y2="709.3000000000001" stroke="#4a4a4a" stroke-width="2.2" stroke-dasharray="5 2"/>
<text x="320.4" y="647.0" font-size="14" fill="#505050" text-anchor="start">A</text>
<text x="320.4" y="674.6" font-size="14" fill="#505050" text-anchor="start">B</text>
<text x="320.4" y="702.6" font-size="14" fill="#505050" text-anchor="start">C</text>
<line x1="328.9" y1="669.6" x2="332.9" y2="669.6" stroke="#444" stroke-width="1.4"/>
<polyline points="332.9,669.6 333.98,652.6 336.15,686.6 338.32,652.6 340.48,686.6 342.65,652.6 344.82,686.6 345.9,669.6" fill="none" stroke="#2a2a2a" stroke-width="1.9" stroke-linejoin="miter"/>
<line x1="345.9" y1="669.6" x2="352.7" y2="669.6" stroke="#444" stroke-width="1.4"/>
<path d="M352.7,669.6 C351.7,649.6 359.0333333333333,649.6 356.97,682.6 C357.0333333333333,649.6 364.3666666666666,649.6 362.30,682.6 C362.3666666666667,649.6 369.7,649.6 367.63,682.6 L368.7,669.6" fill="none" stroke="#2a2a2a" stroke-width="2.2"/>
<line x1="368.7" y1="669.6" x2="379.9" y2="669.6" stroke="#444" stroke-width="1.4"/>
<path d="M379.9,652.6 Q381.4,669.6 379.9,686.6 M384.4,652.6 Q382.9,669.6 384.4,686.6" fill="none" stroke="#444" stroke-width="1.6"/>
<line x1="384.4" y1="669.6" x2="388.9" y2="669.6" stroke="#444" stroke-width="1.4"/>
<rect x="307.4" y="639.0" width="6" height="6" fill="#1a1a1a"/>
<rect x="309.5" y="641.1" width="1.8" height="1.8" fill="#999"/>
<rect x="307.4" y="666.6" width="6" height="6" fill="#1a1a1a"/>
<rect x="309.5" y="668.7" width="1.8" height="1.8" fill="#999"/>
<rect x="307.4" y="694.6" width="6" height="6" fill="#1a1a1a"/>
<rect x="309.5" y="696.7" width="1.8" height="1.8" fill="#999"/>
<text x="362.25" y="728.2" font-size="15" fill="#3c3c3c" text-anchor="middle" textLength="95" lengthAdjust="spacingAndGlyphs">Three-Phase</text>
<text x="362.25" y="746.2" font-size="15" fill="#3c3c3c" text-anchor="middle" textLength="137.4" lengthAdjust="spacingAndGlyphs">Series RLC Load3</text>
<rect x="963.9" y="630.5" width="91.60000000000002" height="77.5" fill="none" stroke="#6a6a6a" stroke-width="1.3"/>
<line x1="1056.7" y1="632.5" x2="1056.7" y2="709.2" stroke="#4a4a4a" stroke-width="2.2" stroke-dasharray="3 2"/>
<line x1="965.9" y1="709.2" x2="1056.7" y2="709.2" stroke="#4a4a4a" stroke-width="2.2" stroke-dasharray="5 2"/>
<text x="968.4" y="647.0" font-size="14" fill="#505050" text-anchor="start">A</text>
<text x="968.4" y="674.6" font-size="14" fill="#505050" text-anchor="start">B</text>
<text x="968.4" y="702.6" font-size="14" fill="#505050" text-anchor="start">C</text>
<line x1="977.9" y1="669.6" x2="985.9" y2="669.6" stroke="#444" stroke-width="1.4"/>
<polyline points="985.9,669.6 987.40,652.6 990.40,686.6 993.40,652.6 996.40,686.6 999.40,652.6 1002.40,686.6 1003.9,669.6" fill="none" stroke="#2a2a2a" stroke-width="1.9" stroke-linejoin="miter"/>
<line x1="1003.9" y1="669.6" x2="1011.9" y2="669.6" stroke="#444" stroke-width="1.4"/>
<path d="M1011.9,669.6 C1010.9,646.6 1017.65,646.6 1015.70,682.6 C1015.65,646.6 1022.4,646.6 1020.45,682.6 C1020.4,646.6 1027.15,646.6 1025.20,682.6 C1025.15,646.6 1031.9,646.6 1029.95,682.6 L1030.9,669.6" fill="none" stroke="#2a2a2a" stroke-width="1.8"/>
<line x1="1030.9" y1="669.6" x2="1035.9" y2="669.6" stroke="#444" stroke-width="1.4"/>
<rect x="956.1" y="639.0" width="6" height="6" fill="#1a1a1a"/>
<rect x="958.2" y="641.1" width="1.8" height="1.8" fill="#999"/>
<rect x="956.1" y="666.6" width="6" height="6" fill="#1a1a1a"/>
<rect x="958.2" y="668.7" width="1.8" height="1.8" fill="#999"/>
<rect x="956.1" y="694.6" width="6" height="6" fill="#1a1a1a"/>
<rect x="958.2" y="696.7" width="1.8" height="1.8" fill="#999"/>
<text x="1009.7" y="728.0" font-size="15" fill="#3c3c3c" text-anchor="middle" textLength="95" lengthAdjust="spacingAndGlyphs">Three-Phase</text>
<text x="1009.7" y="746.0" font-size="15" fill="#3c3c3c" text-anchor="middle" textLength="136" lengthAdjust="spacingAndGlyphs">Series RLC Load2</text>
<polygon points="922.5,345.5 1017,345.5 1047,364 1017,381.4 922.5,381.4" fill="none" stroke="#555" stroke-width="1.8" stroke-dasharray="6 2"/>
<polygon points="922.5,443.2 1020,443.2 1054.6,461 1020,479.4 922.5,479.4" fill="none" stroke="#555" stroke-width="1.8" stroke-dasharray="6 2"/>
<text x="933" y="366.8" font-size="14" fill="#5c5c5c" text-anchor="start" textLength="72.8" lengthAdjust="spacingAndGlyphs">Line1_Iabc</text>
<text x="933" y="464.8" font-size="14" fill="#5c5c5c" text-anchor="start" textLength="78.4" lengthAdjust="spacingAndGlyphs">Line1_Vabc</text>
<text x="985.4" y="398.7" font-size="14" fill="#5c5c5c" text-anchor="middle" textLength="32" lengthAdjust="spacingAndGlyphs">From</text>
<text x="988.4" y="495.3" font-size="14" fill="#5c5c5c" text-anchor="middle" textLength="38" lengthAdjust="spacingAndGlyphs">From1</text>
<line x1="1047" y1="364" x2="1073" y2="364" stroke="#444" stroke-width="1.4" stroke-dasharray="4 2"/>
<line x1="1054.6" y1="461" x2="1073" y2="461" stroke="#444" stroke-width="1.4" stroke-dasharray="4 2"/>
<polygon points="1071,359.5 1079.5,364 1071,368.5" fill="#111"/>
<polygon points="1071,456.5 1079.5,461 1071,465.5" fill="#111"/>
<rect x="1080.8" y="327" width="2.2" height="80.5" fill="#333"/>
<rect x="1080.8" y="417.5" width="2.2" height="87.5" fill="#333"/>
<line x1="0" y1="757.3" x2="1083" y2="757.3" stroke="#2e2e2e" stroke-width="1.6" stroke-dasharray="14 1"/>
</svg></body></html>
